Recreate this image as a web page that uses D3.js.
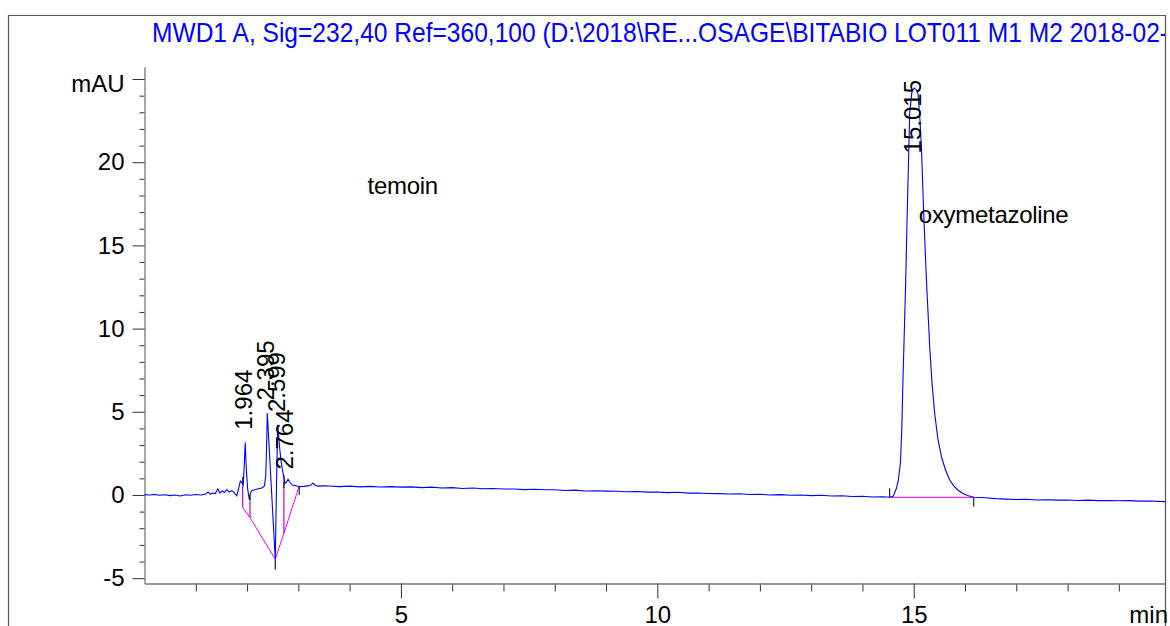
<!DOCTYPE html>
<html>
<head>
<meta charset="utf-8">
<script src="https://cdn.jsdelivr.net/npm/d3@7"></script>
<style>
  html, body { margin: 0; padding: 0; background: #fff; }
  svg { display: block; font-family: "Liberation Sans", Arial, sans-serif; }
  .axis text { font-size: 24px; fill: #000; }
</style>
</head>
<body>
<div class="chart"></div>
<script>
var title = "MWD1 A, Sig=232,40 Ref=360,100 (D:\\2018\\RE...OSAGE\\BITABIO LOT011 M1 M2 2018-02-";

// signal, [min, mAU]
var trace = [
  [0.00, 0.02], [0.10, 0.00], [0.20, 0.03], [0.30, -0.02], [0.40, 0.01], [0.50, -0.04],
  [0.60, 0.00], [0.70, -0.06], [0.80, 0.01], [0.90, -0.02], [1.00, 0.03], [1.10, 0.00],
  [1.18, 0.04], [1.24, 0.18], [1.28, 0.05], [1.33, 0.12], [1.38, 0.08], [1.43, 0.38],
  [1.47, 0.12], [1.52, 0.25], [1.56, 0.15], [1.60, 0.32], [1.65, 0.18], [1.70, 0.26],
  [1.75, 0.15], [1.80, -0.06], [1.84, 0.45], [1.87, 0.85], [1.90, 0.75], [1.925, 0.55],
  [1.945, 1.8], [1.964, 3.14], [1.985, 1.6], [2.01, 0.4], [2.043, -0.26], [2.07, 0.15],
  [2.09, 0.26], [2.13, 0.30], [2.17, 0.33], [2.22, 0.38], [2.29, 0.42], [2.34, 0.55],
  [2.365, 1.2], [2.38, 2.8], [2.395, 4.9], [2.55, -3.87], [2.58, 1.6], [2.599, 4.2],
  [2.63, 3.0], [2.66, 2.1], [2.69, 1.5], [2.71, 1.2], [2.74, 0.7], [2.764, 0.75],
  [2.80, 0.95], [2.84, 0.75], [2.88, 0.60], [2.95, 0.55], [3.02, 0.50], [3.10, 0.52],
  [3.18, 0.55], [3.24, 0.57], [3.28, 0.72], [3.32, 0.60], [3.38, 0.53], [3.50, 0.55],
  [3.60, 0.54], [3.80, 0.50], [4.00, 0.53], [4.20, 0.49], [4.40, 0.52], [4.60, 0.48],
  [4.80, 0.50], [5.00, 0.47], [5.20, 0.49], [5.40, 0.44], [5.60, 0.47], [5.80, 0.42],
  [6.00, 0.44], [6.20, 0.39], [6.40, 0.42], [6.60, 0.37], [6.80, 0.39], [7.00, 0.36],
  [7.20, 0.36], [7.40, 0.32], [7.60, 0.34], [7.80, 0.31], [8.00, 0.31], [8.20, 0.27],
  [8.40, 0.29], [8.60, 0.24], [8.80, 0.25], [9.00, 0.23], [9.20, 0.22], [9.40, 0.19],
  [9.60, 0.21], [9.80, 0.17], [10.00, 0.18], [10.20, 0.14], [10.40, 0.16], [10.60, 0.11],
  [10.80, 0.12], [11.00, 0.09], [11.20, 0.08], [11.40, 0.06], [11.60, 0.07], [11.80, 0.03],
  [12.00, 0.04], [12.20, 0.00], [12.40, 0.02], [12.60, -0.02], [12.80, 0.00], [13.00, -0.04],
  [13.20, -0.02], [13.40, -0.06], [13.60, -0.05], [13.80, -0.09], [14.00, -0.08], [14.20, -0.12],
  [14.40, -0.11], [14.53, -0.14], [14.60, -0.08], [14.663, 0.4], [14.70, 0.9], [14.741, 1.92],
  [14.77, 4.2], [14.79, 6.9], [14.82, 10.2], [14.844, 12.9], [14.87, 16.5], [14.889, 18.9],
  [14.922, 22.96], [14.967, 24.3], [15.015, 24.45], [15.05, 24.35], [15.084, 24.1], [15.12, 22.6],
  [15.15, 20.9], [15.195, 16.9], [15.248, 12.9], [15.312, 8.9], [15.36, 6.6], [15.409, 4.9],
  [15.47, 3.4], [15.54, 2.3], [15.62, 1.5], [15.702, 0.9], [15.78, 0.55], [15.86, 0.30],
  [15.95, 0.10], [16.05, -0.03], [16.17, -0.14], [16.40, -0.17], [16.60, -0.22], [16.80, -0.25],
  [17.00, -0.27], [17.20, -0.26], [17.40, -0.30], [17.60, -0.29], [17.80, -0.31], [18.00, -0.30],
  [18.20, -0.33], [18.40, -0.31], [18.60, -0.34], [18.80, -0.33], [19.00, -0.35], [19.20, -0.34],
  [19.40, -0.37], [19.60, -0.36], [19.90, -0.40]
];

// integration baselines (magenta)
var baselines = [
  [[1.914, -0.74], [2.057, -1.36], [2.55, -3.86], [2.719, -2.30], [3.017, 0.54]],
  [[14.53, -0.14], [16.17, -0.14]]
];
// drop lines [min, top, bottom]
var drops = [[1.914, 0.55, -0.74], [2.057, -0.2, -1.36], [2.719, 1.2, -2.30]];
// start / end markers [min, from, to]
var marks = [
  [1.914, 1.08, 0.72], [2.057, 0.0, -0.3], [2.55, -3.9, -4.5], [2.719, 0.78, 0.42],
  [3.017, 0.48, 0.0], [14.53, 0.4, -0.14], [16.17, -0.14, -0.7]
];

var peakNames = ["1.964", "2.395", "2.599", "2.764", "15.015"];
var peakTimes = [1.964, 2.395, 2.599, 2.764, 15.015];
var peakHeights = [3.14, 4.9, 4.2, 0.75, 24.45];

var notes = [["temoin", 4.35, 18.1], ["oxymetazoline", 15.1, 16.35]];

var yMajor = [-5, 0, 5, 10, 15, 20, 25];
var xMajor = [5, 10, 15];

var W = 1170, H = 626;

var svg = d3.select(".chart").append("svg")
  .attr("width", W)
  .attr("height", H);

var x = d3.scaleLinear().domain([0, 19.9]).range([144.5, 1165]);
var y = d3.scaleLinear().domain([-5.32, 25.74]).range([583.5, 66.7]);

svg.append("clipPath").attr("id", "frameclip")
  .append("rect").attr("x", 0).attr("y", 0).attr("width", 1165).attr("height", H);

// outer frame
svg.append("path")
  .attr("d", "M8.5," + H + "V15.5H1165.5V" + H)
  .attr("fill", "none")
  .attr("stroke", "#555")
  .attr("stroke-width", 1.2);

svg.append("text")
  .attr("x", 152)
  .attr("y", 42)
  .attr("clip-path", "url(#frameclip)")
  .attr("fill", "#0000ff")
  .attr("font-size", 28)
  .attr("textLength", 1016)
  .attr("lengthAdjust", "spacingAndGlyphs")
  .text(title);

// y axis
var yMinor = d3.range(-5, 26).filter(function(d) { return yMajor.indexOf(d) < 0; });
svg.append("g")
  .attr("transform", "translate(" + x(0) + ",0)")
  .call(d3.axisLeft(y).tickValues(yMinor).tickSize(5).tickSizeOuter(0).tickFormat(""))
  .call(function(g) { g.select(".domain").remove(); })
  .selectAll("line").attr("stroke", "#333");

var yAxis = svg.append("g")
  .attr("class", "axis")
  .attr("transform", "translate(" + x(0) + ",0)")
  .call(d3.axisLeft(y).tickValues(yMajor).tickSize(12).tickSizeOuter(0).tickPadding(8)
    .tickFormat(function(d) { return d == 25 ? "mAU" : d; }));
yAxis.select(".domain").attr("stroke", "#777").attr("stroke-width", 1.3);
yAxis.selectAll("line").attr("stroke", "#333");
yAxis.selectAll("text")
  .attr("font-family", null)
  .attr("font-size", null)
  .filter(function(d) { return d == 25; })
  .attr("font-size", 21)
  .attr("dy", "0.5em");

// x axis
var xMinor = d3.range(1, 20).filter(function(d) { return xMajor.indexOf(d) < 0; });
svg.append("g")
  .attr("transform", "translate(0," + y.range()[0] + ")")
  .call(d3.axisBottom(x).tickValues(xMinor).tickSize(8).tickSizeOuter(0).tickFormat(""))
  .call(function(g) { g.select(".domain").remove(); })
  .selectAll("line").attr("stroke", "#333");

var xAxis = svg.append("g")
  .attr("class", "axis")
  .attr("transform", "translate(0," + y.range()[0] + ")")
  .call(d3.axisBottom(x).tickValues(xMajor).tickSize(15).tickSizeOuter(0).tickPadding(7));
xAxis.select(".domain").attr("stroke", "#777").attr("stroke-width", 1.3);
xAxis.selectAll("line").attr("stroke", "#333");
xAxis.selectAll("text").attr("font-family", null).attr("font-size", null);

svg.append("text")
  .attr("x", 1168)
  .attr("y", 622.5)
  .attr("text-anchor", "end")
  .attr("font-size", 24)
  .text("min");

var line = d3.line()
  .x(function(d) { return x(d[0]); })
  .y(function(d) { return y(d[1]); });

// baselines and drop lines
svg.selectAll(".base")
  .data(baselines)
  .enter().append("path")
  .attr("class", "base")
  .attr("d", line)
  .attr("fill", "none")
  .attr("stroke", "#ff00ff")
  .attr("stroke-width", 1);

svg.selectAll(".drop")
  .data(drops)
  .enter().append("line")
  .attr("class", "drop")
  .attr("x1", function(d) { return x(d[0]); })
  .attr("x2", function(d) { return x(d[0]); })
  .attr("y1", function(d) { return y(d[1]); })
  .attr("y2", function(d) { return y(d[2]); })
  .attr("stroke", "#d000d0")
  .attr("stroke-width", 1.2);

svg.append("path")
  .datum(trace)
  .attr("d", line)
  .attr("fill", "none")
  .attr("stroke", "#0000ff")
  .attr("stroke-width", 1.1)
  .attr("stroke-linejoin", "round");

svg.selectAll(".mark")
  .data(marks)
  .enter().append("line")
  .attr("class", "mark")
  .attr("x1", function(d) { return x(d[0]); })
  .attr("x2", function(d) { return x(d[0]); })
  .attr("y1", function(d) { return y(d[1]); })
  .attr("y2", function(d) { return y(d[2]); })
  .attr("stroke", "#222")
  .attr("stroke-width", 1.2);

// retention time labels, rotated, pushed down when they hit the top
svg.selectAll(".rt")
  .data(peakNames)
  .enter().append("text")
  .attr("class", "rt")
  .attr("font-size", 24)
  .text(function(d) { return d; })
  .attr("transform", function(d, i) {
    var len = this.getComputedTextLength();
    var start = y(peakHeights[i]) - 13;
    if (start - len < 80) start = 80 + len;
    return "translate(" + (x(peakTimes[i]) + 7) + "," + start + ") rotate(-90)";
  });

svg.selectAll(".note")
  .data(notes)
  .enter().append("text")
  .attr("class", "note")
  .attr("x", function(d) { return x(d[1]); })
  .attr("y", function(d) { return y(d[2]); })
  .attr("font-size", 24)
  .attr("letter-spacing", -0.3)
  .text(function(d) { return d[0]; });
</script>
</body>
</html>
